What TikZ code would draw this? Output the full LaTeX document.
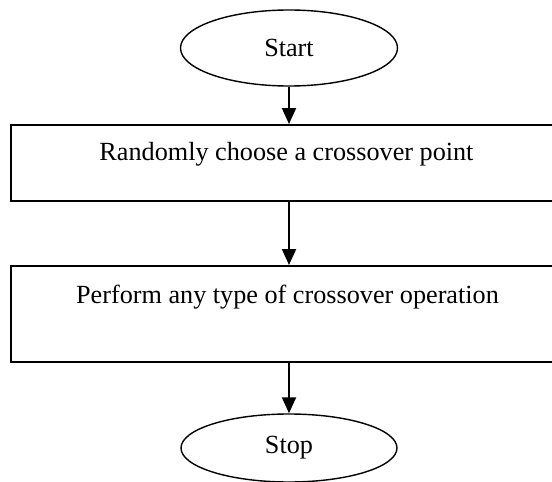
\documentclass[tikz,border=0pt]{standalone}
\usepackage{fontspec}
\setmainfont{Liberation Serif}
\usetikzlibrary{shapes.geometric,arrows.meta}
\begin{document}
\begin{tikzpicture}[x=0.5pt,y=-0.5pt,
  term/.style={ellipse,draw,line width=0.7pt,inner sep=0pt,font=\fontsize{13.1}{15}\selectfont},
  boxnode/.style={draw,line width=1pt,inner sep=0pt},
  lbl/.style={font=\fontsize{13.1}{15}\selectfont,anchor=base,inner sep=0pt},
  arr/.style={line width=1pt,-{Triangle[length=8pt,width=7pt]}}]
\useasboundingbox (0,0) rectangle (552,482);
\node[term,minimum width=108.5pt,minimum height=38pt] (start) at (289,48) {Start};
\node[boxnode,minimum width=275.5pt,minimum height=38pt] (b1) at (286.5,163) {};
\node[lbl] (t1) at (286.5,160) {Randomly choose a crossover point};
\node[boxnode,minimum width=275.5pt,minimum height=48pt] (b2) at (286.5,314) {};
\node[lbl] (t2) at (287.5,303) {Perform any type of crossover operation};
\node[term,minimum width=108pt,minimum height=34pt] (stop) at (289,448) {Stop};
\draw[arr] (start) -- (start |- b1.north);
\draw[arr] (start |- b1.south) -- (start |- b2.north);
\draw[arr] (start |- b2.south) -- (stop);
\end{tikzpicture}
\end{document}
